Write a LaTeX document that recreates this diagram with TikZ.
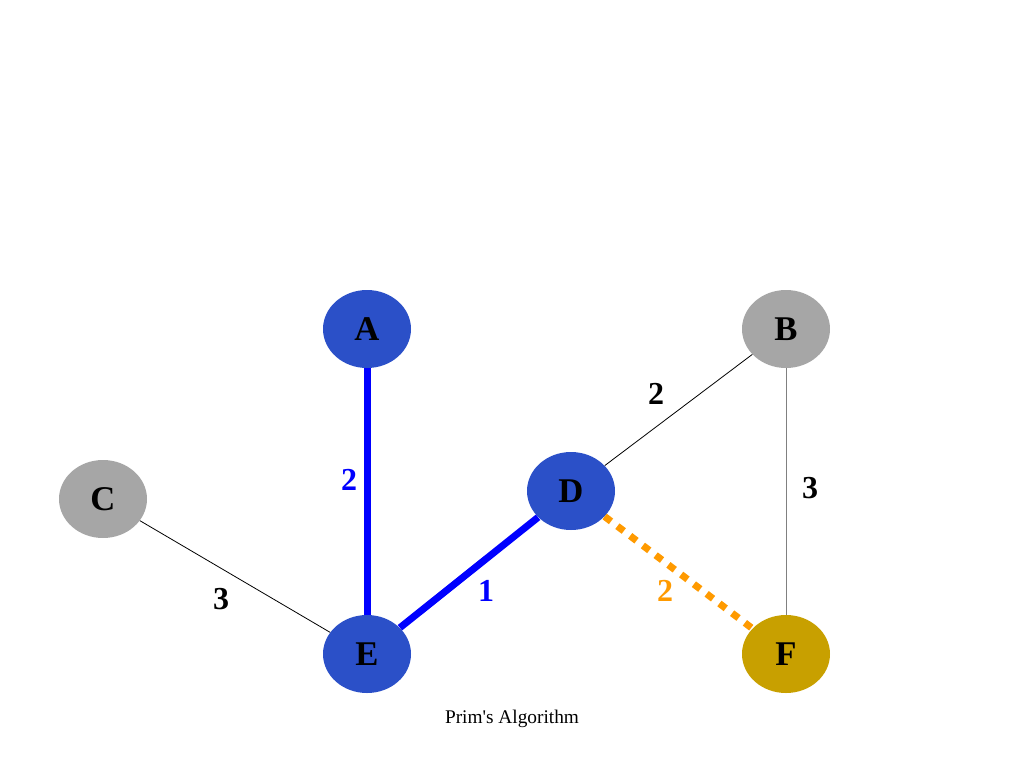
\documentclass[tikz,border=0pt]{standalone}
\usepackage{fontspec}
\setmainfont{Liberation Serif}
\usetikzlibrary{shapes.geometric}
\definecolor{nblue}{HTML}{2B50C8}
\definecolor{ngray}{HTML}{A6A6A6}
\definecolor{ngold}{HTML}{C8A000}
\definecolor{eorange}{HTML}{FF9A00}
\begin{document}
\begin{tikzpicture}[x=0.75pt,y=-0.75pt,
  vertex/.style={ellipse,minimum width=66pt,minimum height=58.5pt,inner sep=0pt,font=\fontsize{26}{26}\selectfont\bfseries},
  treeedge/.style={draw=blue,line width=5.25pt},
  plainedge/.style={draw=black,line width=0.6pt},
  grayedge/.style={draw=gray,line width=0.75pt},
  candedge/.style={draw=eorange,line width=5.25pt,dash pattern=on 6pt off 6pt},
  wlabel/.style={font=\fontsize{24}{24}\selectfont\bfseries}]
\useasboundingbox (0,0) rectangle (1024,768);
\node[vertex,fill=nblue] (A) at (367,329) {A};
\node[vertex,fill=ngray] (B) at (786,329) {B};
\node[vertex,fill=ngray] (C) at (103,499) {C};
\node[vertex,fill=nblue] (D) at (571,491) {D};
\node[vertex,fill=nblue] (E) at (367,654) {E};
\node[vertex,fill=ngold] (F) at (786,654) {F};
\draw[treeedge] (A) -- (E);
\draw[treeedge] (E) -- (D);
\draw[plainedge] (C) -- (E);
\draw[plainedge] (D) -- (B);
\draw[grayedge] (B) -- (F);
\draw[candedge] (D) -- (F);
\node[wlabel,text=blue] (w1) at (349,480) {2};
\node[wlabel,text=blue] (w2) at (486,591) {1};
\node[wlabel] (w3) at (221,599) {3};
\node[wlabel] (w4) at (656,394) {2};
\node[wlabel] (w5) at (810,488) {3};
\node[wlabel,text=eorange] (w6) at (665,591) {2};
\node[font=\fontsize{14.5}{14.5}\selectfont] (cap) at (512,719) {Prim\textquotesingle s Algorithm};
\end{tikzpicture}
\end{document}
